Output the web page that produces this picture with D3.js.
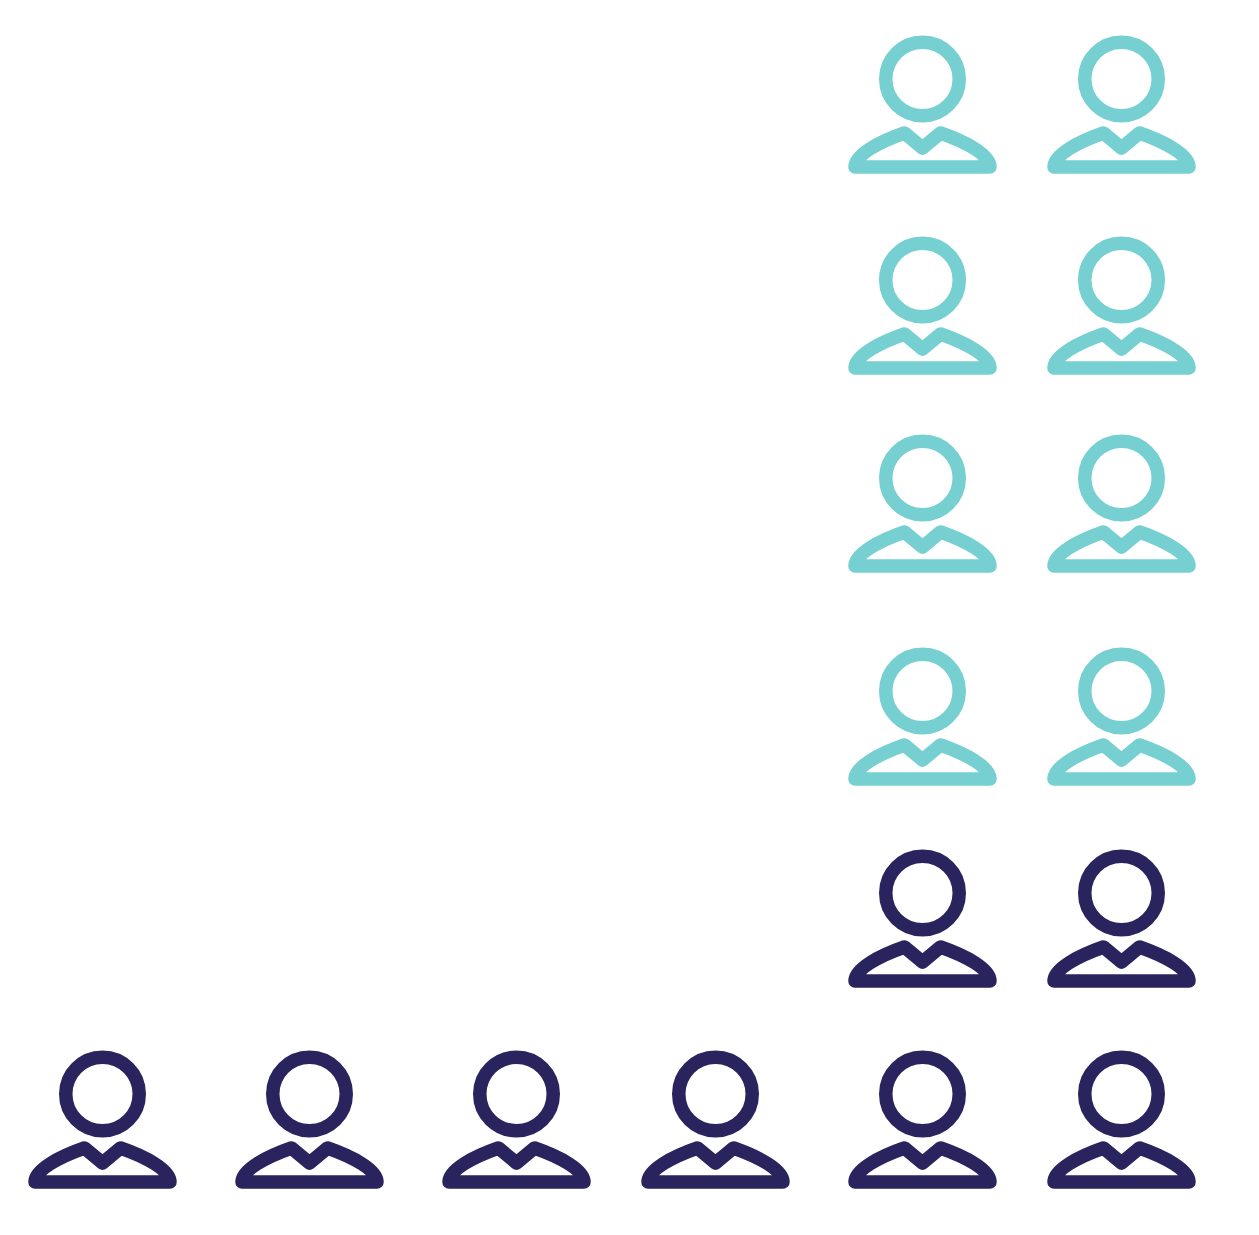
<!DOCTYPE html>
<html><head><meta charset="utf-8">
<script src="https://cdn.jsdelivr.net/npm/d3@7"></script>
<style>html,body{margin:0;padding:0;background:#fff}svg{display:block}</style>
</head><body><div id="c"></div>
<script>
const rowNames = ["r1","r2","r3","r4","r5","r6"]; // bottom to top
const navyCounts = [6,2,0,0,0,0];
const tealCounts = [0,0,2,2,2,2];
const columnNames = ["c1","c2","c3","c4","c5","c6"]; // right to left fill order

const W=1259,H=1235;
const x=d3.scaleOrdinal().domain(columnNames).range([1121.5,922.5,715.5,516.5,309.5,102.5]);
const y=d3.scaleOrdinal().domain(rowNames).range([1094,893,691,478,280,79]);
const color=d3.scaleOrdinal().domain(["navy","teal"]).range(["#2a245e","#76cfd0"]);

const people=[];
rowNames.forEach((r,i)=>{
  let k=0;
  for(let n=0;n<navyCounts[i];n++) people.push({row:r,col:columnNames[k++],group:"navy"});
  for(let n=0;n<tealCounts[i];n++) people.push({row:r,col:columnNames[k++],group:"teal"});
});

const svg=d3.select("#c").append("svg").attr("width",W).attr("height",H).attr("viewBox",[0,0,W,H]);
svg.append("rect").attr("width",W).attr("height",H).attr("fill","#fff");
const body="M-67.5,88 C-67.5,76 -44,63 -18,54 L0,69 L18,54 C44,63 67.5,76 67.5,88 Z";
const g=svg.selectAll("g.person").data(people).join("g").attr("class","person")
  .attr("transform",d=>`translate(${x(d.col)},${y(d.row)})`)
  .attr("fill","none").attr("stroke",d=>color(d.group)).attr("stroke-width",13.5).attr("stroke-linejoin","round");
g.append("circle").attr("r",36.75);
g.append("path").attr("d",body);
</script></body></html>
